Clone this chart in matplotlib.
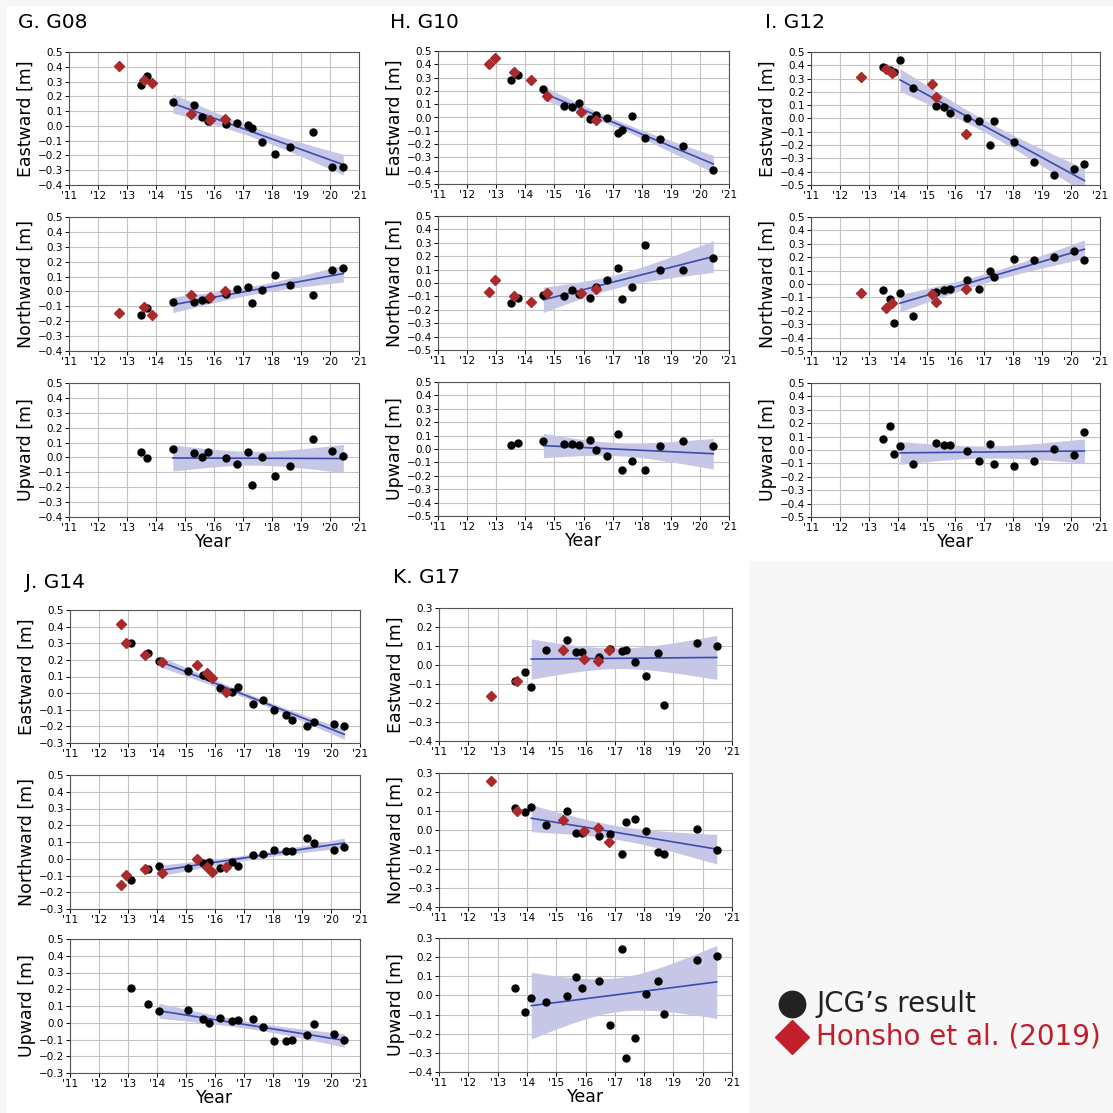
import numpy as np
import matplotlib
matplotlib.use('Agg')
import matplotlib.pyplot as plt
import matplotlib.ticker as ticker
from matplotlib.patches import Rectangle

# ---- G08 ----
g08_yr = [2013.47, 2013.68, 2014.58, 2015.32, 2015.59, 2015.78, 2016.41, 2016.80, 2017.18, 2017.32,
          2017.64, 2018.11, 2018.62, 2019.40, 2020.08, 2020.46]
g08_e = [0.274, 0.340, 0.164, 0.143, 0.058, 0.036, 0.011, 0.018, 0.004, -0.013,
         -0.112, -0.193, -0.146, -0.040, -0.280, -0.276]
g08_n = [-0.158, -0.108, -0.070, -0.072, -0.059, -0.050, -0.020, 0.017, 0.029, -0.075,
         0.013, 0.110, 0.042, -0.023, 0.145, 0.157]
g08_u = [0.034, -0.002, 0.059, 0.030, 0.003, 0.034, -0.002, -0.047, 0.039, -0.182,
         0.003, -0.126, -0.058, 0.122, 0.043, 0.009]
g08_hyr = [2012.73, 2013.59, 2013.87, 2015.22, 2015.86, 2016.37]
g08_he = [0.404, 0.310, 0.290, 0.080, 0.040, 0.047]
g08_hn = [-0.142, -0.106, -0.158, -0.027, -0.036, 0.000]

# ---- G10 ----
g10_yr = [2013.50, 2013.74, 2014.62, 2015.34, 2015.61, 2015.83, 2016.21, 2016.43, 2016.81, 2017.19,
          2017.33, 2017.65, 2018.12, 2018.63, 2019.41, 2020.46]
g10_e = [0.280, 0.323, 0.216, 0.086, 0.081, 0.111, -0.014, 0.021, -0.006, -0.118,
         -0.094, 0.011, -0.151, -0.161, -0.211, -0.393]
g10_n = [-0.150, -0.113, -0.090, -0.098, -0.055, -0.085, -0.110, -0.030, 0.025, 0.115,
         -0.120, -0.030, 0.280, 0.095, 0.095, 0.183]
g10_u = [0.030, 0.045, 0.060, 0.040, 0.040, 0.033, 0.068, -0.008, -0.050, 0.110,
         -0.155, -0.090, -0.160, 0.025, 0.058, 0.020]
g10_hyr = [2012.74, 2012.95, 2013.60, 2014.20, 2014.73, 2015.90, 2016.42]
g10_he = [0.400, 0.445, 0.345, 0.280, 0.158, 0.039, -0.019]
g10_hn = [-0.068, 0.025, -0.095, -0.145, -0.073, -0.075, -0.043]

# ---- G12 ----
g12_yr = [2013.49, 2013.72, 2013.86, 2014.08, 2014.54, 2015.32, 2015.60, 2015.82, 2016.40, 2016.81,
          2017.20, 2017.32, 2018.03, 2018.70, 2019.40, 2020.09, 2020.46]
g12_e = [0.385, 0.365, 0.348, 0.440, 0.228, 0.096, 0.089, 0.039, 0.001, -0.021,
         -0.200, -0.021, -0.180, -0.325, -0.423, -0.380, -0.343]
g12_n = [-0.047, -0.114, -0.294, -0.070, -0.239, -0.060, -0.042, -0.040, 0.030, -0.040,
         0.100, 0.055, 0.189, 0.179, 0.199, 0.249, 0.179]
g12_u = [0.083, 0.178, -0.030, 0.030, -0.108, 0.050, 0.040, 0.038, -0.010, -0.085,
         0.045, -0.108, -0.118, -0.080, 0.005, -0.035, 0.131]
g12_hyr = [2012.73, 2013.59, 2013.82, 2015.20, 2015.34, 2016.36]
g12_he = [0.310, 0.375, 0.345, 0.263, 0.161, -0.116]
g12_hn = [-0.065, -0.179, -0.142, -0.072, -0.134, -0.035]

# ---- G14 ----
g14_yr = [2013.11, 2013.70, 2014.07, 2015.06, 2015.60, 2015.80, 2016.17, 2016.57, 2016.80, 2017.32,
          2017.64, 2018.03, 2018.44, 2018.64, 2019.18, 2019.43, 2020.09, 2020.46]
g14_e = [0.300, 0.242, 0.196, 0.136, 0.108, 0.095, 0.032, 0.004, 0.038, -0.066,
         -0.042, -0.100, -0.132, -0.162, -0.196, -0.176, -0.188, -0.200]
g14_n = [-0.124, -0.062, -0.042, -0.054, -0.026, -0.020, -0.056, -0.020, -0.042, 0.022,
         0.026, 0.050, 0.044, 0.044, 0.124, 0.092, 0.052, 0.072]
g14_u = [0.207, 0.110, 0.068, 0.078, 0.024, -0.003, 0.028, 0.010, 0.014, 0.022,
         -0.023, -0.109, -0.109, -0.105, -0.071, -0.007, -0.067, -0.103]
g14_hyr = [2012.76, 2012.92, 2013.59, 2014.18, 2015.37, 2015.74, 2015.90, 2016.37]
g14_he = [0.414, 0.300, 0.232, 0.190, 0.170, 0.120, 0.092, 0.008]
g14_hn = [-0.158, -0.098, -0.060, -0.084, -0.004, -0.050, -0.082, -0.050]

# ---- G17 ----
g17_yr = [2013.58, 2013.94, 2014.15, 2014.66, 2015.36, 2015.68, 2015.87, 2016.45, 2016.85, 2017.24,
          2017.37, 2017.69, 2018.07, 2018.49, 2018.69, 2019.81, 2020.48]
g17_e = [-0.083, -0.038, -0.115, 0.080, 0.129, 0.067, 0.067, 0.042, 0.084, 0.073,
         0.080, 0.014, -0.059, 0.061, -0.209, 0.114, 0.100]
g17_n = [0.116, 0.095, 0.120, 0.027, 0.099, -0.012, -0.015, -0.031, -0.019, -0.122,
         0.043, 0.060, -0.001, -0.113, -0.125, 0.008, -0.103]
g17_u = [0.037, -0.089, -0.015, -0.034, -0.005, 0.097, 0.041, 0.074, -0.155, 0.240,
         -0.327, -0.220, 0.008, 0.074, -0.096, 0.184, 0.207]
g17_hyr = [2012.78, 2013.66, 2015.23, 2015.94, 2016.41, 2016.79]
g17_he = [-0.163, -0.082, 0.080, 0.032, 0.021, 0.080]
g17_hn = [0.256, 0.104, 0.053, -0.003, 0.015, -0.059]

FIT_FROM = 2014.0
W = H = 1113

fig = plt.figure(figsize=(W / 100, H / 100), dpi=100, facecolor='white')
plt.rcParams['font.family'] = 'DejaVu Sans'

# light gray frame pieces / legend box
bg = '#f7f7f7'
fig.patches.append(Rectangle((0, 1 - 5 / H), 1, 5 / H, transform=fig.transFigure, color=bg, zorder=-5))
fig.patches.append(Rectangle((0, 0), 5 / W, 1, transform=fig.transFigure, color=bg, zorder=-5))
fig.patches.append(Rectangle((749 / W, 0), 1, 1 - 561 / H, transform=fig.transFigure, color=bg, zorder=-5))


def px_axes(left, right, top, bottom):
    return fig.add_axes([left / W, 1 - bottom / H, (right - left) / W, (bottom - top) / H])


def fit_band(ax, yr, v):
    yr = np.asarray(yr)
    v = np.asarray(v)
    m = yr >= FIT_FROM
    x, y = yr[m], v[m]
    b, a = np.polyfit(x, y, 1)
    n = len(x)
    s = np.sqrt(np.sum((y - (a + b * x)) ** 2) / (n - 2))
    xs = np.linspace(x.min(), x.max(), 120)
    yh = a + b * xs
    se = s * np.sqrt(1 / n + (xs - x.mean()) ** 2 / np.sum((x - x.mean()) ** 2))
    ax.fill_between(xs, yh - 2.16 * se, yh + 2.16 * se, color='#c6c6e6', lw=0, zorder=2)
    ax.plot(xs, yh, color='#3a4cae', lw=1.2, zorder=3)


def style(ax, ylim, ylabel, xlabel=False):
    ax.set_xlim(2011, 2021)
    ax.set_ylim(*ylim)
    ax.set_xticks(range(2011, 2022))
    ax.set_xticklabels(["'%02d" % (y % 100) for y in range(2011, 2022)])
    ax.yaxis.set_major_locator(ticker.MultipleLocator(0.1))
    ax.tick_params(labelsize=7.5, length=3, width=0.7, pad=1.5)
    ax.grid(True, color='#c4c4c4', lw=0.8, zorder=0)
    ax.set_axisbelow(True)
    for sp in ax.spines.values():
        sp.set_color('#555555')
        sp.set_linewidth(0.8)
    ax.set_ylabel(ylabel, fontsize=12.5, labelpad=2)
    if xlabel:
        ax.set_xlabel('Year', fontsize=12.5, labelpad=0)
    # unicode minus
    ax.set_yticklabels([('%.1f' % t).replace('-', '\u2212') if abs(t) > 1e-9 else '0.0'
                        for t in ax.get_yticks()])


def panel(ax, yr, v, hyr=None, hv=None):
    fit_band(ax, yr, v)
    ax.plot(yr, v, 'o', color='black', ms=5, zorder=4)
    if hyr is not None:
        ax.plot(hyr, hv, 'D', color='#a82a2a', ms=5, zorder=5)


stations = [
    ('G. G08', 18, 23, 69, 359, [52, 217, 383], (-0.4, 0.5), (-0.4, 0.5), (-0.4, 0.5),
     g08_yr, g08_e, g08_n, g08_u, g08_hyr, g08_he, g08_hn),
    ('H. G10', 390, 22, 438, 729, [51, 216, 382], (-0.5, 0.5), (-0.5, 0.5), (-0.5, 0.5),
     g10_yr, g10_e, g10_n, g10_u, g10_hyr, g10_he, g10_hn),
    ('I. G12', 765, 23, 811, 1100, [52, 217, 383], (-0.5, 0.5), (-0.5, 0.5), (-0.5, 0.5),
     g12_yr, g12_e, g12_n, g12_u, g12_hyr, g12_he, g12_hn),
    ('J. G14', 25, 582, 70, 360, [610, 775, 939], (-0.3, 0.5), (-0.3, 0.5), (-0.3, 0.5),
     g14_yr, g14_e, g14_n, g14_u, g14_hyr, g14_he, g14_hn),
    ('K. G17', 393, 578, 439, 732, [608, 773, 938], (-0.4, 0.3), (-0.4, 0.3), (-0.4, 0.3),
     g17_yr, g17_e, g17_n, g17_u, g17_hyr, g17_he, g17_hn),
]

for (title, tx, ty, left, right, tops, ylE, ylN, ylU,
     yr, e, n, u, hyr, he, hn) in stations:
    fig.text(tx / W, 1 - ty / H, title, fontsize=14.5, ha='left', va='center')
    axE = px_axes(left, right, tops[0], tops[0] + 133)
    panel(axE, yr, e, hyr, he)
    style(axE, ylE, 'Eastward [m]')
    axN = px_axes(left, right, tops[1], tops[1] + 134)
    panel(axN, yr, n, hyr, hn)
    style(axN, ylN, 'Northward [m]')
    axU = px_axes(left, right, tops[2], tops[2] + 134)
    panel(axU, yr, u)
    style(axU, ylU, 'Upward [m]', xlabel=True)

# legend in the gray box
lax = fig.add_axes([749 / W, 0, 1 - 749 / W, 1 - 561 / H])
lax.set_xlim(0, 1)
lax.set_ylim(0, 1)
lax.axis('off')
lax.plot([0.118], [0.198], 'o', color='#222222', ms=19, transform=lax.transAxes, clip_on=False)
lax.plot([0.118], [0.138], 'D', color='#c11f2b', ms=17, transform=lax.transAxes, clip_on=False)
lax.text(0.185, 0.198, 'JCG\u2019s result', fontsize=20, color='#222222', va='center',
         ha='left', family=['DejaVu Sans'], transform=lax.transAxes)
lax.text(0.185, 0.138, 'Honsho et al. (2019)', fontsize=20, color='#c11f2b', va='center',
         ha='left', family=['DejaVu Sans'], transform=lax.transAxes)

fig.savefig('out.png', dpi=100, facecolor=fig.get_facecolor())
